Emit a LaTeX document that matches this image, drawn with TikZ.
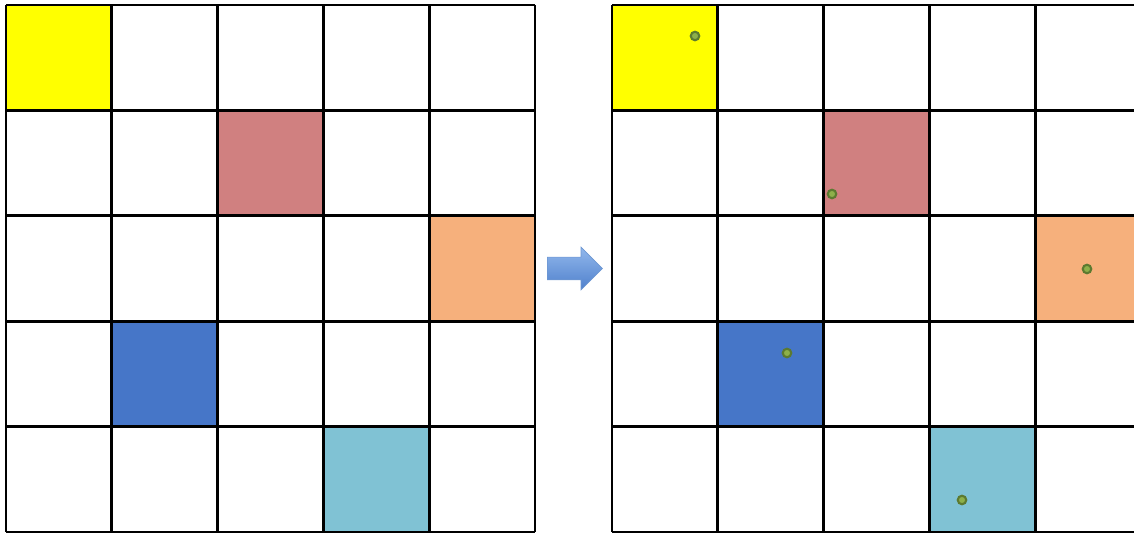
\documentclass[tikz,border=0pt]{standalone}
\usetikzlibrary{shapes.arrows}
\definecolor{cellyellow}{HTML}{FFFF00}
\definecolor{cellrose}{HTML}{D08080}
\definecolor{cellorange}{HTML}{F6B07C}
\definecolor{cellblue}{HTML}{4676C8}
\definecolor{cellcyan}{HTML}{80C2D4}
\definecolor{dotfill}{HTML}{8DB04A}
\definecolor{dotrim}{HTML}{5C7A30}
\definecolor{arrtop}{HTML}{92B8EC}
\definecolor{arrbot}{HTML}{4F80CC}
\definecolor{arrline}{HTML}{6D97D2}

\begin{document}
\begin{tikzpicture}[
    x=0.02cm, y=-0.02cm,
    gridline/.style={draw=black, line width=1.6pt},
    dot/.style={circle, fill=dotfill, draw=dotrim, line width=1.2pt,
        minimum size=0.17cm, inner sep=0pt},
    bigarrow/.style={single arrow, draw=arrline, thin,
        top color=arrtop, bottom color=arrbot,
        minimum height=1.1cm, inner xsep=0pt, inner ysep=0.22cm,
        single arrow head extend=0.2cm},
]

% ── page ──
\useasboundingbox (0,0) rectangle (1134,533);
\clip (0,0) rectangle (1134,533);

% ── coloured cells, both grids ──
\foreach \ox in {6,612} {
    \foreach \c/\r/\col in {0/0/cellyellow, 2/1/cellrose, 4/2/cellorange,
                            1/3/cellblue, 3/4/cellcyan} {
        \fill[\col] (\ox+\c*105.8, 5+\r*105.4) rectangle ++(105.8,105.4);
    }
}

% ── grid lines ──
\foreach \ox in {6,612} {
    \foreach \i in {0,...,5} {
        \draw[gridline] (\ox+\i*105.8, 5) -- (\ox+\i*105.8, 532);
        \draw[gridline] (\ox, 5+\i*105.4) -- (\ox+529, 5+\i*105.4);
    }
}

% ── arrow between grids ──
\node[bigarrow, anchor=west] (step) at (547,268.5) {};

% ── sample points ──
\node[dot] (p1) at (695,36) {};
\node[dot] (p2) at (832,194) {};
\node[dot] (p3) at (1087,269) {};
\node[dot] (p4) at (787,353) {};
\node[dot] (p5) at (962,500) {};

\end{tikzpicture}
\end{document}
